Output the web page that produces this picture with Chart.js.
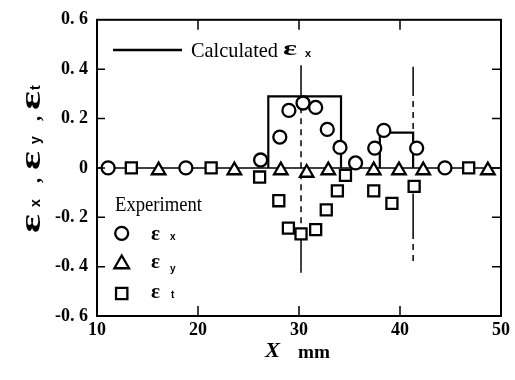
<!DOCTYPE html>
<html lang="en">
<head>
<meta charset="UTF-8">
<title>Strain distribution along X</title>
<style>
  body { margin: 0; background: #fff; }
  #wrap { width: 515px; height: 380px; }
</style>
</head>
<body>
<div id="wrap"><canvas id="chart" width="515" height="380"></canvas></div>
<script src="https://cdn.jsdelivr.net/npm/chart.js"></script>
<script>
// experiment, eps_x (circles)
const exX = [11.1, 18.8, 26.2, 28.1, 29.0, 30.4, 31.65, 32.8, 34.06, 35.6, 37.5, 38.4, 41.65, 44.45];
const exY = [0, 0, 0.032, 0.125, 0.233, 0.263, 0.245, 0.156, 0.083, 0.02, 0.08, 0.152, 0.08, 0];
// experiment, eps_y (triangles)
const eyX = [16.1, 23.6, 28.2, 30.76, 32.9, 37.4, 39.9, 42.3, 48.7];
const eyY = [-0.01, -0.01, -0.01, -0.02, -0.01, -0.01, -0.01, -0.01, -0.01];
// experiment, eps_t (squares)
const etX = [13.4, 21.3, 26.1, 28.0, 28.95, 30.2, 31.65, 32.7, 33.8, 34.6, 37.4, 39.2, 41.4, 46.8];
const etY = [0, 0, -0.037, -0.133, -0.244, -0.267, -0.25, -0.17, -0.093, -0.03, -0.093, -0.144, -0.075, 0];
// calculated eps_x (step outline)
const calcX1 = [26.96, 26.96, 34.16, 34.16];
const calcY1 = [0, 0.29, 0.29, 0];
const calcX2 = [38.0, 38.0, 41.3, 41.3];
const calcY2 = [0, 0.143, 0.143, 0];
// baseline at zero
const zeroX = [10, 50];
const zeroY = [0, 0];
// vertical reference lines: x position, solid spans, dashed spans
const refX = [30.2, 41.3];
const refSolid = [[[0.416, 0.29], [-0.29, -0.40]], [[0.41, 0.316], [-0.104, -0.264]]];
const refDashed = [[[0.29, -0.26], [-0.40, -0.445]], [[0.316, 0.143], [-0.264, -0.39]]];

const xTicks = [10, 20, 30, 40, 50];
const yTicks = [-0.6, -0.4, -0.2, 0, 0.2, 0.4, 0.6];

const pts = (xs, ys) => xs.map((x, i) => ({ x: x, y: ys[i] }));

function markerSet(xs, ys, style, r) {
    return {
        type: 'scatter',
        data: pts(xs, ys),
        pointStyle: style,
        pointRadius: r,
        pointBorderWidth: 2.3,
        pointBorderColor: '#000',
        pointBackgroundColor: '#fff'
    };
}

function lineSet(data, width, dash) {
    return {
        type: 'line',
        data: data,
        showLine: true,
        borderColor: '#000',
        borderWidth: width,
        borderDash: dash || [],
        pointRadius: 0,
        tension: 0,
        fill: false
    };
}

const datasets = [
    markerSet(exX, exY, 'circle', 6.5),
    markerSet(eyX, eyY, 'triangle', 7.8),
    markerSet(etX, etY, 'rect', 7.8),
    lineSet(pts(calcX1, calcY1), 2.2),
    lineSet(pts(calcX2, calcY2), 2.2)
];
refX.forEach((x, i) => {
    refSolid[i].forEach(s => datasets.push(lineSet([{ x: x, y: s[0] }, { x: x, y: s[1] }], 1.5)));
    refDashed[i].forEach(s => datasets.push(lineSet([{ x: x, y: s[0] }, { x: x, y: s[1] }], 1.5, [6, 5])));
});
datasets.push(lineSet(pts(zeroX, zeroY), 1.5));

function fitText(ctx, text, x, y, font, width) {
    ctx.save();
    ctx.font = font;
    const w = ctx.measureText(text).width;
    ctx.translate(x, y);
    if (width) ctx.scale(width / w, 1);
    ctx.textAlign = 'left';
    ctx.textBaseline = 'alphabetic';
    ctx.fillText(text, 0, 0);
    ctx.restore();
}

// frame and inward ticks
const framePlugin = {
    id: 'frame',
    afterDatasetsDraw(chart) {
        const ctx = chart.ctx, a = chart.chartArea;
        const xs = chart.scales.x, ys = chart.scales.y;
        ctx.save();
        ctx.strokeStyle = '#000';
        ctx.lineWidth = 1.5;
        ctx.beginPath();
        xTicks.slice(1, -1).forEach(v => {
            const px = xs.getPixelForValue(v);
            ctx.moveTo(px, a.bottom); ctx.lineTo(px, a.bottom - 10);
            ctx.moveTo(px, a.top); ctx.lineTo(px, a.top + 10);
        });
        yTicks.slice(1, -1).forEach(v => {
            const py = ys.getPixelForValue(v);
            ctx.moveTo(a.left, py); ctx.lineTo(a.left + 8, py);
            ctx.moveTo(a.right, py); ctx.lineTo(a.right - 9, py);
        });
        ctx.stroke();
        ctx.lineWidth = 2;
        ctx.strokeRect(a.left, a.top, a.right - a.left, a.bottom - a.top);
        ctx.restore();
    }
};

// legend and axis titles
const textPlugin = {
    id: 'texts',
    afterDraw(chart) {
        const ctx = chart.ctx;
        ctx.save();
        ctx.fillStyle = '#000';
        ctx.strokeStyle = '#000';

        // calculated legend
        ctx.lineWidth = 2.5;
        ctx.beginPath(); ctx.moveTo(113, 50); ctx.lineTo(182, 50); ctx.stroke();
        fitText(ctx, 'Calculated', 191, 57, '22px "Liberation Serif"', 87);
        fitText(ctx, 'ε', 283, 55, 'bold 22px "Liberation Serif"', 14);
        fitText(ctx, 'x', 305, 57, 'bold 11px "Liberation Sans"');

        // experiment legend
        fitText(ctx, 'Experiment', 115, 210.5, '22px "Liberation Serif"', 87);
        const opts = { borderWidth: 2.3 };
        ctx.lineWidth = 2.3;
        ctx.fillStyle = '#fff';
        Chart.helpers.drawPoint(ctx, { pointStyle: 'circle', radius: 6.5, borderWidth: 2.3 }, 121.7, 233.3);
        Chart.helpers.drawPoint(ctx, { pointStyle: 'triangle', radius: 8.5, borderWidth: 2.3 }, 121.7, 264);
        Chart.helpers.drawPoint(ctx, { pointStyle: 'rect', radius: 8, borderWidth: 2.3 }, 121.7, 293.5);
        ctx.fillStyle = '#000';
        fitText(ctx, 'ε', 151, 240, 'bold 20px "Liberation Serif"', 9);
        fitText(ctx, 'x', 170, 240, 'bold 10px "Liberation Sans"');
        fitText(ctx, 'ε', 151, 268, 'bold 20px "Liberation Serif"', 9);
        fitText(ctx, 'y', 170, 272, 'bold 10px "Liberation Sans"');
        fitText(ctx, 'ε', 151, 298, 'bold 20px "Liberation Serif"', 9);
        fitText(ctx, 't', 171, 298, 'bold 10px "Liberation Sans"');

        // x title
        fitText(ctx, 'X', 265, 357, 'bold italic 22px "Liberation Serif"', 15);
        fitText(ctx, 'mm', 298, 358, 'bold 19px "Liberation Serif"', 32);

        // y title, rotated
        ctx.save();
        ctx.translate(40, 233);
        ctx.rotate(-Math.PI / 2);
        const eps = 'bold 30px "Liberation Serif"';
        const sub = 'bold 14px "Liberation Sans"';
        const com = 'bold 20px "Liberation Serif"';
        fitText(ctx, 'ε', 0, 0, eps, 19);
        fitText(ctx, 'x', 26, 0, sub);
        fitText(ctx, ',', 50, 0, com);
        fitText(ctx, 'ε', 63, 0, eps, 19);
        fitText(ctx, 'y', 89, 0, sub);
        fitText(ctx, ',', 112, 0, com);
        fitText(ctx, 'ε', 123, 0, eps, 19);
        fitText(ctx, 't', 143, 0, sub);
        ctx.restore();

        ctx.restore();
    }
};

function fmtY(v) {
    const r = Math.round(v * 10) / 10;
    if (r === 0) return '0';
    return r.toFixed(1).replace('.', '. ');
}

new Chart(document.getElementById('chart'), {
    type: 'scatter',
    data: { datasets: datasets },
    options: {
        responsive: false,
        animation: false,
        devicePixelRatio: 1,
        layout: { padding: { top: 16, right: 14, left: 0, bottom: 0 } },
        plugins: { legend: { display: false }, tooltip: { enabled: false } },
        scales: {
            x: {
                type: 'linear',
                min: 10, max: 50,
                afterBuildTicks: s => { s.ticks = xTicks.map(v => ({ value: v })); },
                afterFit: s => { s.height = 64; },
                ticks: { color: '#000', padding: 4, maxRotation: 0, font: { family: 'Liberation Serif', size: 18, weight: 'bold' } },
                grid: { display: false, drawTicks: false },
                border: { display: false }
            },
            y: {
                type: 'linear',
                min: -0.6, max: 0.6,
                afterBuildTicks: s => { s.ticks = yTicks.map(v => ({ value: v })); },
                afterFit: s => { s.width = 97; },
                ticks: { color: '#000', padding: 9, callback: fmtY, font: { family: 'Liberation Serif', size: 18, weight: 'bold' } },
                grid: { display: false, drawTicks: false },
                border: { display: false }
            }
        }
    },
    plugins: [framePlugin, textPlugin]
});
</script>
</body>
</html>
